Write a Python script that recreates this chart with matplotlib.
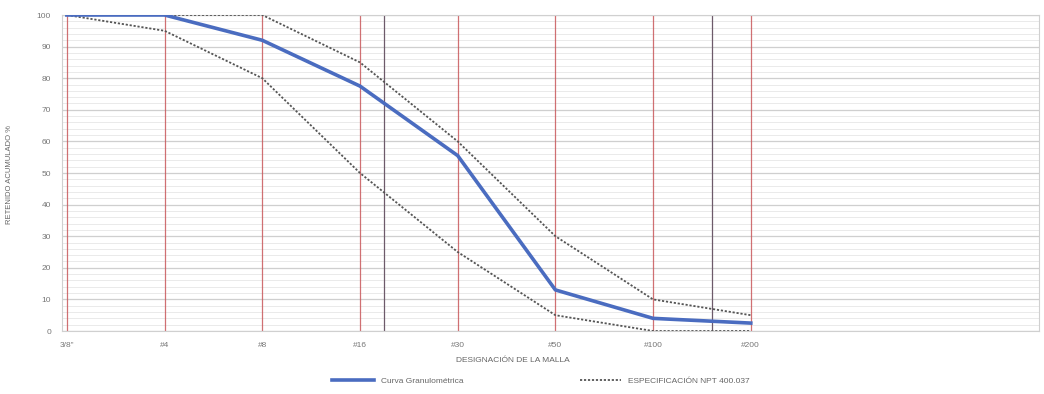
import matplotlib
matplotlib.use('Agg')
import matplotlib.pyplot as plt
import numpy as np

# datos de la curva granulométrica
mallas = ['3/8"', '#4', '#8', '#16', '#30', '#50', '#100', '#200']
curva = [100, 100, 92, 77.5, 55.5, 13, 4, 2.5]
espec_sup = [100, 100, 100, 85, 60, 30, 10, 5]
espec_inf = [100, 95, 80, 50, 25, 5, 0, 0]
# líneas verticales extra (posición entre mallas)
lineas_extra = [3.25, 6.6]

plt.rcParams['font.family'] = ['Liberation Sans', 'DejaVu Sans']

fig = plt.figure(figsize=(10.44, 3.94), dpi=100)
ax = fig.add_axes([62 / 1044, 1 - 331 / 394, (1039 - 62) / 1044, (331 - 15) / 394])

x = np.arange(len(mallas))

# cuadrícula
for v in np.arange(0, 101, 2):
    ax.axhline(v, color='#e6e6e6' if v % 10 else '#cfcfcf', lw=0.6 if v % 10 else 0.9, zorder=0)
for xi in x:
    ax.axvline(xi, color='#c8575a', lw=0.9, alpha=0.85, zorder=1)
for xe in lineas_extra:
    ax.axvline(xe, color='#6d5a6a', lw=0.9, zorder=1)

ax.plot(x, espec_sup, color='#555555', lw=1.3, ls=(0, (1.2, 1.0)), zorder=3,
        label='ESPECIFICACIÓN NPT 400.037')
ax.plot(x, espec_inf, color='#555555', lw=1.3, ls=(0, (1.2, 1.0)), zorder=3)
ax.plot(x, curva, color='#4a6cc0', lw=2.6, zorder=4, label='Curva Granulométrica')

ax.set_xlim(-0.05, 9.95)
ax.set_ylim(0, 100)
ax.set_xticks(x)
ax.set_xticklabels(mallas)
ax.set_yticks(np.arange(0, 101, 10))
ax.tick_params(labelsize=6, colors='#777777', length=0, pad=8)
for s in ax.spines.values():
    s.set_color('#d0d0d0')

fig.text(513 / 1044, 1 - 361 / 394, 'DESIGNACIÓN DE LA MALLA', ha='center', va='center',
         fontsize=6, color='#666666')
fig.text(10 / 1044, 1 - 175 / 394, 'RETENIDO ACUMULADO %', rotation=90, ha='center', va='center',
         fontsize=5.5, color='#666666')

h, l = ax.get_legend_handles_labels()
fig.legend(h[::-1], l[::-1], loc='center', bbox_to_anchor=(541 / 1044, 1 - 381 / 394), ncol=2,
           frameon=False, fontsize=6, handlelength=5, columnspacing=14,
           labelcolor='#666666')

fig.savefig('out.png', dpi=100, facecolor='white')
